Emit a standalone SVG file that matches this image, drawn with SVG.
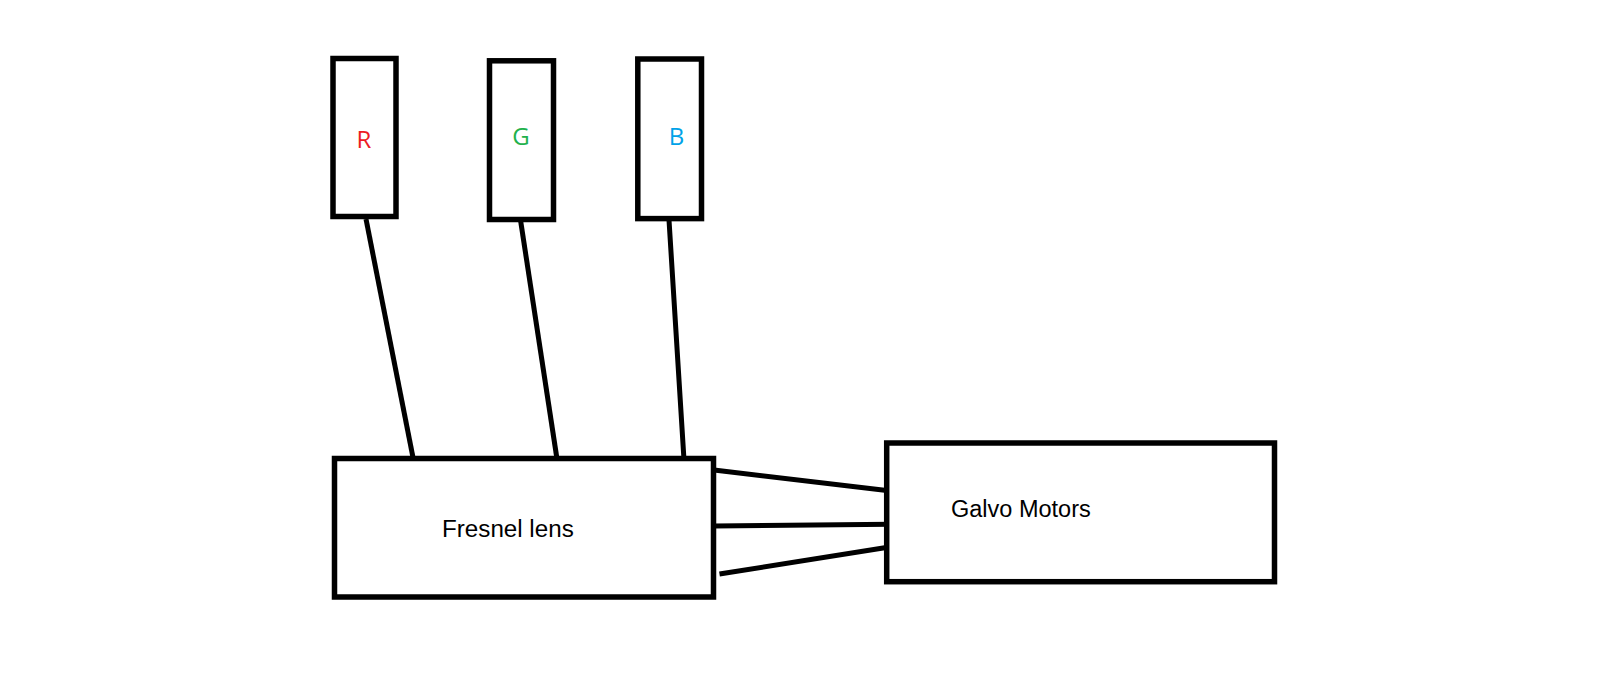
<svg xmlns="http://www.w3.org/2000/svg" width="1604" height="697" viewBox="0 0 1604 697">
<style>
.box{fill:#fff;stroke:#000;stroke-width:5.5}
.wire{stroke:#000;stroke-width:5}
.lbl{font-family:"Liberation Sans",Arial,sans-serif;font-size:23.5px;fill:#000}
.rgb{font-family:"Open Sans","Noto Sans",sans-serif;font-size:24px;text-anchor:middle}
</style>
<rect width="1604" height="697" fill="#fff"/>
<g id="connectors">
<line class="wire" x1="366" y1="219" x2="413.5" y2="460"/>
<line class="wire" x1="520.5" y1="220" x2="557" y2="459"/>
<line class="wire" x1="669" y1="220" x2="684" y2="460"/>
<line class="wire" x1="714" y1="470" x2="891" y2="491"/>
<line class="wire" x1="714" y1="526" x2="891" y2="524.3"/>
<line class="wire" x1="719.5" y1="574" x2="891" y2="546.7"/>
</g>
<g id="node-r">
<rect class="box" x="333" y="58.5" width="63" height="158"/>
<text class="rgb" x="364" y="148" fill="#ED1C24">R</text>
</g>
<g id="node-g">
<rect class="box" x="489.5" y="60.8" width="64" height="158.7"/>
<text class="rgb" x="521" y="145" fill="#22B14C">G</text>
</g>
<g id="node-b">
<rect class="box" x="637.8" y="59" width="63.7" height="159.6"/>
<text class="rgb" x="676.5" y="145" fill="#00A2E8">B</text>
</g>
<g id="node-fresnel">
<rect class="box" x="334.5" y="458.5" width="379" height="138.5"/>
<text class="lbl" x="442" y="537" style="font-size:24.2px">Fresnel lens</text>
</g>
<g id="node-galvo">
<rect class="box" x="886.7" y="443" width="387.8" height="138.7"/>
<text class="lbl" x="951" y="516.7">Galvo Motors</text>
</g>
</svg>
